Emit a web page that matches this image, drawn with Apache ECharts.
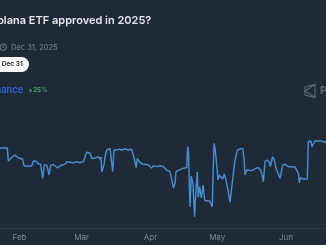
<!DOCTYPE html>
<html>
<head>
<meta charset="utf-8">
<script src="https://cdn.jsdelivr.net/npm/echarts@6/dist/echarts.min.js"></script>
<style>
html,body{margin:0;padding:0;background:#1e2a38;}
#chart{width:326px;height:245px;}
</style>
</head>
<body>
<div id="chart"></div>
<script>
var times = [
'2025-01-23 05:00','2025-01-26 12:00','2025-01-26 23:00','2025-01-28 04:00','2025-01-29 23:00','2025-01-30 21:00',
'2025-02-01 05:00','2025-02-02 08:00','2025-02-03 01:00','2025-02-06 12:00','2025-02-07 05:00','2025-02-07 23:00',
'2025-02-08 18:00','2025-02-09 11:00','2025-02-10 11:00','2025-02-11 11:00','2025-02-12 04:00','2025-02-13 06:00',
'2025-02-14 07:00','2025-02-15 01:00','2025-02-16 05:00','2025-02-17 00:00','2025-02-18 05:00','2025-02-19 06:00',
'2025-02-21 12:00','2025-02-22 06:00','2025-02-23 18:00','2025-02-25 05:00','2025-02-26 18:00','2025-02-27 11:00',
'2025-02-28 06:00','2025-03-01 17:00','2025-03-02 12:00','2025-03-03 06:00','2025-03-04 18:00','2025-03-05 12:00',
'2025-03-06 16:00','2025-03-07 07:00','2025-03-08 12:00','2025-03-09 06:00','2025-03-09 17:00','2025-03-10 00:00',
'2025-03-10 14:00','2025-03-11 01:00','2025-03-11 12:00','2025-03-12 06:00','2025-03-13 00:00','2025-03-13 18:00',
'2025-03-14 12:00','2025-03-14 23:00','2025-03-15 13:00','2025-03-16 18:00','2025-03-17 22:00','2025-03-19 00:00',
'2025-03-20 12:00','2025-03-22 00:00','2025-03-23 12:00','2025-03-24 06:00','2025-03-25 00:00','2025-03-25 11:00',
'2025-03-26 01:00','2025-03-26 23:00','2025-03-27 14:00','2025-03-28 11:00','2025-03-29 12:00','2025-03-30 07:00',
'2025-03-31 00:00','2025-03-31 18:00','2025-04-01 13:00','2025-04-02 06:00','2025-04-03 19:00','2025-04-05 06:00',
'2025-04-06 18:00','2025-04-07 12:00','2025-04-08 07:00','2025-04-09 18:00','2025-04-10 13:00','2025-04-11 08:00',
'2025-04-12 00:00','2025-04-12 11:00','2025-04-13 05:00','2025-04-15 18:00','2025-04-17 07:00','2025-04-17 18:00',
'2025-04-18 02:00','2025-04-18 18:00','2025-04-19 08:00','2025-04-20 03:00','2025-04-20 19:00','2025-04-21 11:00',
'2025-04-22 01:00','2025-04-22 12:00','2025-04-23 03:00','2025-04-23 21:00','2025-04-24 15:00','2025-04-25 09:00',
'2025-04-26 10:00','2025-04-27 15:00','2025-04-28 09:00','2025-04-28 19:00','2025-04-29 03:00','2025-04-29 14:00',
'2025-04-30 03:00','2025-04-30 19:00','2025-05-01 09:00','2025-05-02 01:00','2025-05-02 17:00','2025-05-03 12:00',
'2025-05-04 05:00','2025-05-04 23:00','2025-05-06 00:00','2025-05-06 19:00','2025-05-07 09:00','2025-05-07 16:00',
'2025-05-08 06:00','2025-05-09 01:00','2025-05-09 11:00','2025-05-10 02:00','2025-05-11 07:00','2025-05-12 12:00',
'2025-05-13 02:00','2025-05-13 13:00','2025-05-14 07:00','2025-05-16 13:00','2025-05-17 03:00','2025-05-18 12:00',
'2025-05-19 12:00','2025-05-20 12:00','2025-05-21 01:00','2025-05-21 19:00','2025-05-22 13:00','2025-05-23 14:00',
'2025-05-24 11:00','2025-05-25 00:00','2025-05-25 22:00','2025-05-26 14:00','2025-05-27 12:00','2025-05-28 09:00',
'2025-05-29 07:00','2025-05-29 23:00','2025-05-30 12:00','2025-05-31 13:00','2025-06-02 01:00','2025-06-02 19:00',
'2025-06-03 13:00','2025-06-04 07:00','2025-06-05 01:00','2025-06-05 19:00','2025-06-06 13:00','2025-06-07 00:00',
'2025-06-07 15:00','2025-06-08 19:00','2025-06-10 14:00','2025-06-11 01:00','2025-06-12 03:00','2025-06-12 17:00',
'2025-06-13 07:00','2025-06-14 01:00','2025-06-14 20:00','2025-06-15 13:00','2025-06-16 15:00','2025-06-17 19:00',
'2025-06-19 00:00'
];
var chance = [
66.7,66.7,55.8,58.3,60.8,59.2,
57.9,57.5,51.7,51.7,55.8,56.7,
55.4,53.3,53.3,41.3,52.5,52.5,
44.2,52.5,52.9,51.7,50.0,51.9,
53.3,55.3,54.8,54.4,55.3,56.7,
54.4,55.3,59.4,63.1,62.3,58.1,
58.1,59.4,59.4,57.5,59.2,46.9,
46.9,52.5,59.4,65.0,65.8,66.4,
65.8,46.9,65.0,65.0,65.8,65.0,
65.8,65.0,65.6,64.2,55.3,50.3,
58.1,55.3,56.7,53.1,53.1,51.9,
52.5,51.1,49.8,51.9,51.1,51.9,
51.1,50.4,48.3,46.9,45.6,33.3,
37.3,46.9,48.3,49.8,50.3,67.8,
63.3,17.5,43.3,36.7,9.4,31.7,
46.7,25.8,34.2,25.0,35.8,23.3,
22.5,22.5,21.7,17.8,43.3,70.6,
65.0,52.5,40.0,44.2,42.5,40.8,
45.0,40.0,30.3,21.4,21.7,35.8,
37.3,56.7,55.8,65.0,65.8,66.4,
58.1,44.2,48.3,47.8,46.9,49.8,
50.3,48.3,45.8,38.6,55.3,56.7,
54.8,51.3,59.2,57.5,49.8,50.0,
41.4,42.5,52.5,53.1,51.1,52.1,
51.1,49.8,50.8,48.3,45.6,37.8,
41.9,40.8,40.8,71.9,72.5,67.8,
68.6,72.5,73.3,72.5,72.5,71.9,
71.4
];
var tickDates = ['2025-02-01','2025-03-01','2025-04-01','2025-05-01','2025-06-01'];
var tickLabels = ['Feb','Mar','Apr','May','Jun'];
var titleText = 'Solana ETF approved in 2025?';
var endDateText = 'Dec 31, 2025';
var pillText = 'Dec 31';
var chanceText = 'chance';
var changeText = '25%';
var brandText = 'Polymarket';

function ts(s){ return echarts.time.parse(s).getTime(); }
var tickTs = tickDates.map(ts);
var data = times.map(function(t,i){ return [t, chance[i]]; });
var DAY = 86400000;

var FONT = 'Inter, "Open Sans", sans-serif';
var chart = echarts.init(document.getElementById('chart'), null, {renderer:'canvas'});
chart.setOption({
  backgroundColor:'#1e2a38',
  animation:false,
  grid:{left:0,right:0,top:108,bottom:17,containLabel:false},
  xAxis:{
    type:'time',
    min: ts('2025-01-23 05:00'),
    max: ts('2025-06-19 00:00'),
    minInterval: 28*DAY,
    maxInterval: 31*DAY,
    axisLine:{show:true,lineStyle:{color:'#2e3b4c',width:1}},
    axisTick:{show:false},
    splitLine:{show:false},
    axisLabel:{
      color:'#7f8a98',
      fontSize:8,
      fontFamily:FONT,
      margin:6,
      showMinLabel:false,
      showMaxLabel:false,
      hideOverlap:false,
      formatter:function(v){
        for (var i = 0; i < tickTs.length; i++) {
          if (Math.abs(tickTs[i] - v) < DAY) return tickLabels[i];
        }
        return '';
      }
    }
  },
  yAxis:{type:'value',min:0,max:100,show:false,splitLine:{show:false}},
  series:[{
    type:'line',
    data:data,
    showSymbol:false,
    symbol:'none',
    lineStyle:{color:'#4a8fd4',width:1.4},
    itemStyle:{color:'#4a8fd4'}
  }],
  graphic:[
    {type:'text',x:-10,y:21,style:{text:titleText,fill:'#e6e9ed',font:'600 11px '+FONT,verticalAlign:'middle'}},
    {type:'circle',shape:{cx:3.3,cy:47.3,r:3.2},style:{fill:'none',stroke:'#7a8594',lineWidth:0.9}},
    {type:'polyline',shape:{points:[[3.3,45.5],[3.3,47.3],[4.6,48.2]]},style:{fill:'none',stroke:'#7a8594',lineWidth:0.9}},
    {type:'text',x:11,y:47.3,style:{text:endDateText,fill:'#7a8594',font:'400 7.5px '+FONT,verticalAlign:'middle'}},
    {type:'rect',shape:{x:-30,y:57,width:59,height:15,r:7.5},style:{fill:'#ffffff'}},
    {type:'text',x:1.8,y:64.5,style:{text:pillText,fill:'#1e2a38',font:'700 6.5px '+FONT,verticalAlign:'middle'}},
    {type:'text',x:-10,y:90,style:{text:chanceText,fill:'#2e6bf2',font:'500 9.5px '+FONT,verticalAlign:'middle'}},
    {type:'polygon',shape:{points:[[29,91.6],[32,91.6],[30.5,88.6]]},style:{fill:'#3fb068'}},
    {type:'text',x:33,y:90,style:{text:changeText,fill:'#3fb068',font:'600 6.5px '+FONT,verticalAlign:'middle'}},
    {type:'polygon',shape:{points:[[305,87],[315,84.5],[315,97.5],[305,95]]},style:{fill:'none',stroke:'#5f6b79',lineWidth:1.1}},
    {type:'polyline',shape:{points:[[315,84.5],[305,91],[315,97.5]]},style:{fill:'none',stroke:'#5f6b79',lineWidth:1.1}},
    {type:'text',x:320,y:91,style:{text:brandText,fill:'#5f6b79',font:'700 11px '+FONT,verticalAlign:'middle'}}
  ]
});
</script>
</body>
</html>
